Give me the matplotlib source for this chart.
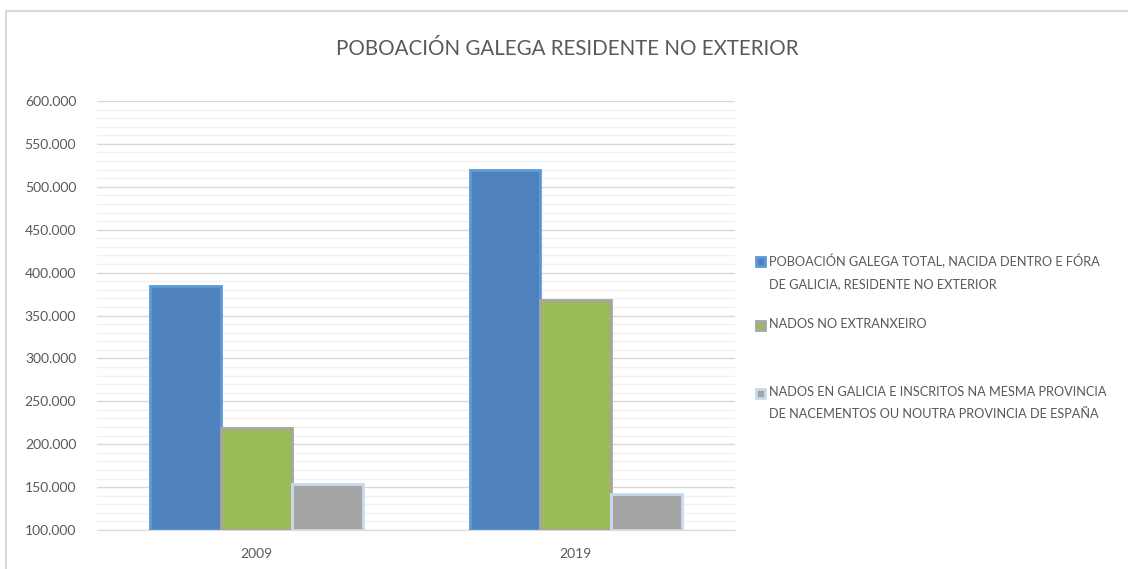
import numpy as np
import matplotlib.pyplot as plt
from matplotlib.patches import Rectangle
from matplotlib.ticker import MultipleLocator, FuncFormatter

plt.rcParams['font.family'] = ['Lato', 'DejaVu Sans']

# datos leidos da grafica
anos = ['2009', '2019']
total = [384000, 519000]
nados_extranxeiro = [219000, 368000]
nados_galicia = [154000, 142000]

etiquetas = [
    "POBOACIÓN GALEGA TOTAL, NACIDA DENTRO E FÓRA\nDE GALICIA, RESIDENTE NO EXTERIOR",
    "NADOS NO EXTRANXEIRO",
    "NADOS EN GALICIA E INSCRITOS NA MESMA PROVINCIA\nDE NACEMENTOS OU NOUTRA PROVINCIA DE ESPAÑA",
]
valores = [total, nados_extranxeiro, nados_galicia]
cores = ['#4F81BD', '#9BBB59', '#A5A5A5']
bordes = ['#5B9BD5', '#A5A5A5', '#C9DAF0']

fig = plt.figure(figsize=(11.28, 5.69), dpi=100)
ax = fig.add_axes([0.086, 0.0685, 0.566, 0.754])

# marco do grafico
fig.patches.append(Rectangle((0.0055, -0.01), 1.2, 0.99, transform=fig.transFigure,
                             fill=False, edgecolor='#D9D9D9', linewidth=1.5))

x = np.arange(len(anos))
w = 0.222
for i in range(3):
    ax.bar(x + (i - 1) * w, np.array(valores[i]) - 100000, w, bottom=100000, color=cores[i],
           edgecolor=bordes[i], linewidth=2, zorder=3)

ax.set_xlim(-0.5, 1.5)
ax.set_ylim(100000, 600000)
ax.yaxis.set_major_locator(MultipleLocator(50000))
ax.yaxis.set_minor_locator(MultipleLocator(10000))
ax.yaxis.set_major_formatter(FuncFormatter(lambda v, p: f"{int(v):,}".replace(',', '.')))
ax.grid(axis='y', which='major', color='#D9D9D9', linewidth=1, zorder=0)
ax.grid(axis='y', which='minor', color='#F0F0F0', linewidth=1, zorder=0)
for s in ['top', 'right', 'left']:
    ax.spines[s].set_visible(False)
ax.spines['bottom'].set_color('#D9D9D9')
ax.set_xticks(x)
ax.set_xticklabels(anos)
ax.tick_params(axis='both', which='both', length=0, labelsize=10, labelcolor='#595959')
ax.tick_params(axis='x', pad=13)
ax.tick_params(axis='y', pad=15)

fig.text(0.503, 0.914, "POBOACIÓN GALEGA RESIDENTE NO EXTERIOR", ha='center', va='center',
         fontsize=14.8, color='#595959')

# lenda feita a man (Excel aliña o marcador coa primeira liña)
ley_y = [261, 325, 393]
for i in range(3):
    yf = 1 - ley_y[i] / 569
    fig.patches.append(Rectangle((756 / 1128, yf - 4.5 / 569), 9 / 1128, 9 / 569,
                                 transform=fig.transFigure, facecolor=cores[i],
                                 edgecolor=bordes[i], linewidth=2))
    fig.text(769 / 1128, yf + 7 / 569, etiquetas[i], ha='left', va='top', fontsize=9.2,
             color='#595959', linespacing=2.0)

fig.savefig('out.png', dpi=100)
